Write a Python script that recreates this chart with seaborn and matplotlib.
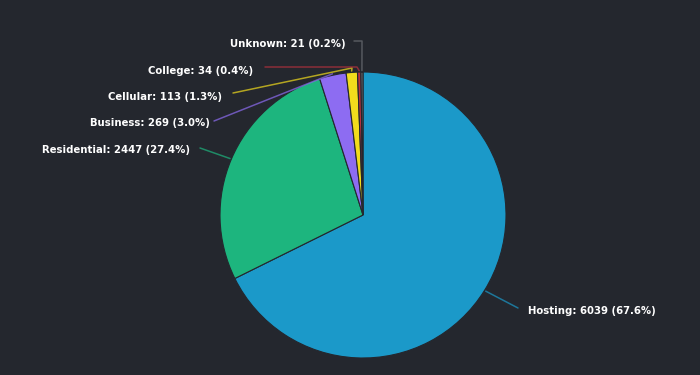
import numpy as np
import seaborn as sns
import matplotlib.pyplot as plt

# data
labels = ["Hosting", "Residential", "Business", "Cellular", "College", "Unknown"]
counts = [6039, 2447, 269, 113, 34, 21]
pcts = [67.6, 27.4, 3.0, 1.3, 0.4, 0.2]
colors = ["#1b99c9", "#1db57e", "#8d6cf2", "#f2dc1c", "#b8323e", "#6b6e74"]

bg = "#24272e"
sns.set_theme(style="dark", rc={"figure.facecolor": bg, "axes.facecolor": bg})
plt.rcParams['font.family'] = ['DejaVu Sans']

fig = plt.figure(figsize=(7, 3.75), dpi=100)
ax = fig.add_axes([0, 0, 1, 1])

# pie center and radius in pixels
cx, cy, rad = 363, 215, 143


def px(x, y):
    return ((x - cx) / rad, (cy - y) / rad)


wedges, _ = ax.pie(counts, colors=colors, startangle=90, counterclock=False,
                   wedgeprops=dict(edgecolor=bg, linewidth=0.8))

# label layout (pixels): text anchor, alignment, connector elbows
layout = {
    "Hosting": ((528, 311), "left", [(518, 308)]),
    "Residential": ((190, 150), "right", [(200, 148)]),
    "Business": ((210, 123), "right", [(214, 121)]),
    "Cellular": ((222, 97), "right", [(233, 93), (352, 68)]),
    "College": ((253, 71), "right", [(265, 67), (357, 67)]),
    "Unknown": ((346, 44), "right", [(354, 41), (362, 41)]),
}

total = sum(counts)
cum = np.cumsum(counts) / total
for i, name in enumerate(labels):
    frac = counts[i] / total
    ang = np.deg2rad(90 - 360 * (cum[i] - frac / 2))
    edge = (1.01 * np.cos(ang), 1.01 * np.sin(ang))
    (tx, ty), ha, elbows = layout[name]
    pts = [px(*p) for p in elbows] + [edge]
    xs = [p[0] for p in pts]
    ys = [p[1] for p in pts]
    ax.plot(xs, ys, color=colors[i], lw=1.1, alpha=0.7, solid_capstyle="round")
    ax.text(*px(tx, ty), f"{name}: {counts[i]} ({pcts[i]}%)", ha=ha, va="center",
            color="white", fontsize=7.3, fontweight="bold")

ax.set_xlim(px(0, 0)[0], px(700, 0)[0])
ax.set_ylim(px(0, 375)[1], px(0, 0)[1])
ax.set_aspect("equal")
ax.axis("off")

fig.savefig("out.png", dpi=100, facecolor=bg)
